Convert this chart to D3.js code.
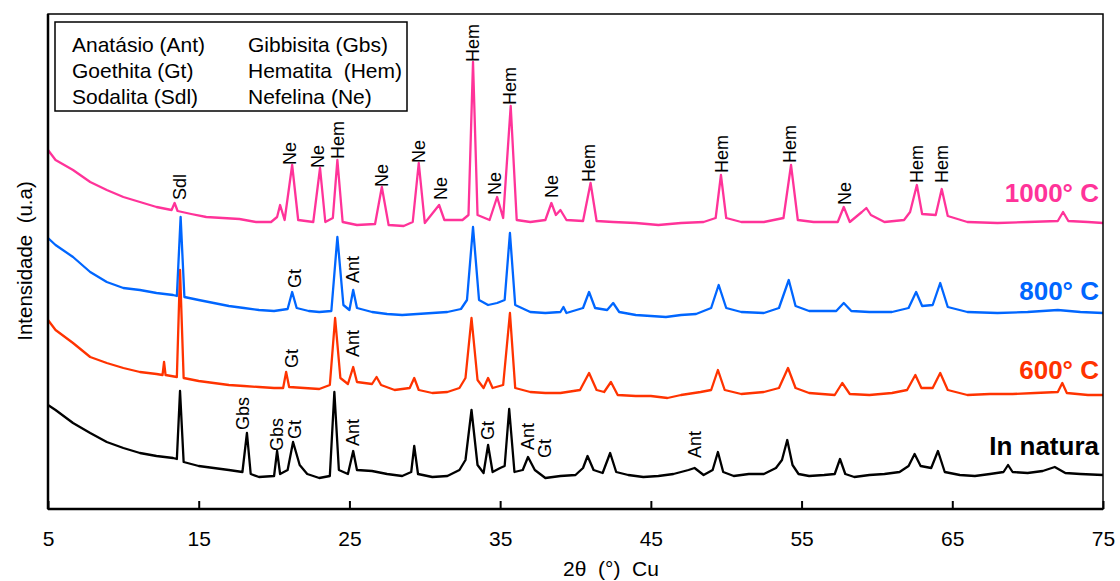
<!DOCTYPE html>
<html>
<head>
<meta charset="utf-8">
<script src="https://cdn.jsdelivr.net/npm/d3@7"></script>
<style>
  html, body { margin: 0; padding: 0; background: #fff; }
  svg { display: block; font-family: Arial, "Liberation Sans", sans-serif; }
</style>
</head>
<body>
<svg id="chart" width="1120" height="581"></svg>
<script>
// ---- Data (2θ in degrees, intensity in arbitrary units, stacked as displayed) ----
const xTicks = [5, 15, 25, 35, 45, 55, 65, 75];

const seriesNames = ["1000° C", "800° C", "600° C", "In natura"];
const seriesColors = ["#FF3399", "#0066FF", "#FF3300", "#000000"];

const natura = [
  [5.0,104],[5.5,99],[6.66,86],[7.8,76],[8.9,67],[10.0,61],[11.1,56],[12.2,53],[13.3,51],[13.55,50],
  [13.76,118],[14.0,47],[15.0,43],[16.0,41],[17.0,39],[17.9,37],[18.2,76],[18.45,35],[19.0,32],[20.0,33],
  [20.2,58],[20.4,35],[20.9,39],[21.26,67],[21.7,44],[22.2,35],[23.0,31],[23.7,33],[24.0,117],[24.3,39],
  [24.9,35],[25.25,58],[25.5,39],[26.5,38],[27.5,35],[28.5,33],[29.1,37],[29.3,63],[29.55,35],[30.5,32],
  [31.5,33],[32.3,39],[32.7,49],[33.1,99],[33.5,44],[33.9,36],[34.2,64],[34.5,37],[35.0,41],[35.3,43],
  [35.6,100],[35.95,37],[36.5,39],[36.85,52],[37.3,39],[38.0,31],[39.0,33],[40.0,34],[40.5,41],[40.8,53],
  [41.2,39],[41.8,36],[42.3,56],[42.7,37],[43.5,34],[44.5,32],[45.5,33],[46.5,35],[47.5,39],[47.9,41],
  [48.5,34],[49.1,39],[49.45,57],[49.8,37],[50.5,33],[51.5,35],[52.5,35],[53.3,41],[53.7,49],[54.05,69],
  [54.4,44],[54.8,35],[55.5,33],[56.5,34],[57.2,35],[57.55,50],[57.9,35],[58.5,32],[59.5,34],[60.5,35],
  [61.5,37],[62.1,43],[62.5,55],[62.9,43],[63.6,41],[64.05,58],[64.5,37],[65.5,34],[66.5,33],[67.5,35],
  [68.4,37],[68.7,44],[69.0,37],[70.0,36],[71.0,38],[71.8,42],[72.5,36],[73.5,35],[75.0,34]
];

const c600 = [
  [5.0,189],[5.5,179],[6.66,166],[7.8,152],[8.9,146],[10.0,141],[11.1,137],[12.2,135],[12.6,134],[12.7,147],
  [12.8,134],[13.55,132],[13.76,239],[14.0,131],[15.0,128],[16.0,126],[17.0,124],[18.0,123],[19.0,122],[20.0,121],
  [20.6,121],[20.8,137],[21.0,122],[22.0,121],[23.0,120],[23.7,124],[24.05,191],[24.4,131],[24.9,125],[25.25,142],
  [25.5,127],[26.5,125],[26.8,132],[27.1,124],[28.0,119],[29.0,121],[29.3,131],[29.6,119],[30.5,116],[31.5,117],
  [32.3,121],[32.7,131],[33.1,191],[33.5,129],[33.9,121],[34.2,131],[34.5,121],[35.2,124],[35.65,196],[36.0,121],
  [37.0,117],[38.0,116],[39.0,116],[40.3,119],[40.9,136],[41.4,119],[41.9,117],[42.35,127],[42.8,114],[44.0,113],
  [45.0,113],[46.1,111],[47.0,114],[48.3,117],[49.0,119],[49.45,139],[49.9,119],[51.0,115],[52.5,117],[53.5,121],
  [54.1,141],[54.6,121],[55.5,116],[57.2,114],[57.7,126],[58.2,115],[59.5,114],[61.0,116],[62.0,119],[62.55,134],
  [62.95,121],[63.7,121],[64.2,136],[64.7,119],[66.0,114],[67.5,115],[69.0,115],[70.5,116],[72.0,117],[72.3,126],
  [72.6,116],[74.0,114],[75.0,114]
];

const c800 = [
  [5.0,271],[5.5,264],[6.66,252],[7.8,237],[8.9,227],[10.0,221],[11.1,219],[12.2,216],[13.3,214],[13.55,213],
  [13.8,292],[14.05,212],[15.0,209],[16.0,206],[17.0,203],[18.0,201],[19.0,199],[20.0,198],[20.9,200],[21.2,217],
  [21.5,201],[22.3,198],[23.0,197],[23.8,198],[24.2,272],[24.6,204],[25.0,199],[25.25,219],[25.5,201],[26.5,197],
  [27.5,195],[28.5,194],[29.5,195],[30.5,196],[31.5,197],[32.4,200],[32.8,209],[33.2,282],[33.6,209],[34.2,204],
  [34.8,206],[35.3,209],[35.65,276],[36.0,204],[37.0,197],[38.0,196],[39.0,197],[39.2,202],[39.4,196],[40.5,201],
  [40.9,217],[41.3,201],[42.1,199],[42.5,206],[42.9,197],[44.0,194],[45.0,193],[46.0,192],[47.0,194],[48.0,195],
  [49.0,201],[49.5,224],[50.0,201],[51.0,197],[52.5,196],[53.5,201],[54.15,229],[54.6,203],[55.5,198],[57.3,198],
  [57.8,206],[58.3,198],[59.5,197],[61.0,197],[62.1,201],[62.6,217],[63.0,203],[63.7,204],[64.2,226],[64.7,202],
  [66.0,197],[68.0,196],[70.0,197],[72.0,199],[73.5,197],[75.0,196]
];

const c1000 = [
  [5.0,359],[5.5,349],[6.66,339],[7.8,327],[8.9,319],[10.0,312],[11.1,307],[12.2,302],[13.2,299],[13.4,306],
  [13.6,298],[14.5,295],[15.5,292],[16.6,291],[17.7,290],[18.8,287],[19.8,287],[20.2,292],[20.4,304],[20.7,289],
  [21.2,344],[21.6,289],[22.6,287],[23.05,341],[23.4,287],[23.9,291],[24.2,349],[24.55,287],[25.5,284],[26.7,285],
  [27.15,322],[27.6,284],[28.6,283],[29.2,287],[29.6,346],[30.0,286],[30.95,304],[31.3,289],[32.5,289],[32.9,294],
  [33.2,447],[33.5,294],[34.3,289],[34.8,312],[35.2,291],[35.7,403],[36.1,289],[37.0,287],[38.0,289],[38.4,306],
  [38.7,294],[39.0,299],[39.4,289],[40.5,288],[41.0,326],[41.4,288],[42.5,287],[44.0,286],[45.5,284],[47.0,286],
  [48.5,287],[49.3,291],[49.65,334],[50.0,291],[51.0,287],[52.5,287],[53.8,291],[54.3,344],[54.75,289],[55.8,287],
  [57.4,287],[57.8,302],[58.2,287],[59.0,297],[59.3,301],[59.6,294],[60.5,287],[61.8,289],[62.2,297],[62.65,324],
  [63.0,295],[63.9,294],[64.3,320],[64.7,293],[66.0,287],[68.0,286],[70.0,287],[72.0,288],[72.35,297],[72.7,288],
  [74.0,287],[75.0,286]
];

const seriesData = [c1000, c800, c600, natura];

// Temperature label baselines (intensity units)
const seriesLabelY = [307, 209, 130, 54];

// Phase annotations: [label, 2θ, intensity at text bottom]
const notes1000 = [
  ["Sdl",13.76,309],["Ne",21.06,344],["Ne",22.92,341],["Hem",24.24,350],["Ne",27.16,322],["Ne",29.62,346],
  ["Ne",31.08,309],["Hem",33.2,447],["Ne",34.66,314],["Hem",35.66,404],["Ne",38.44,311],["Hem",40.9,327],
  ["Hem",49.72,336],["Hem",54.23,346],["Ne",57.88,304],["Hem",62.66,326],["Hem",64.32,326]
];
const notes800 = [["Gt",21.39,221],["Ant",25.24,226]];
const notes600 = [["Gt",21.19,141],["Ant",25.24,152]];
const notesNatura = [
  ["Gbs",17.94,79],["Gbs",20.2,58],["Gt",21.39,70],["Ant",25.24,63],
  ["Gt",34.2,69],["Ant",36.85,59],["Gt",37.98,51],["Ant",47.93,51]
];

const legendItems = [
  ["Anatásio (Ant)", "Gibbisita (Gbs)"],
  ["Goethita (Gt)", "Hematita  (Hem)"],
  ["Sodalita (Sdl)", "Nefelina (Ne)"]
];

// ---- Drawing ----
const svg = d3.select("#chart");
const margin = {left: 48, right: 1103, top: 14, bottom: 509};

const x = d3.scaleLinear().domain([5, 75]).range([margin.left, margin.right]);
const y = d3.scaleLinear().domain([0, 495]).range([margin.bottom, margin.top]);

const line = d3.line().x(d => x(d[0])).y(d => y(d[1])).curve(d3.curveLinear);
const order = [3, 2, 1, 0];
order.forEach(i => {
  svg.append("path")
    .datum(seriesData[i])
    .attr("d", line)
    .attr("fill", "none")
    .attr("stroke", seriesColors[i])
    .attr("stroke-width", 2.3)
    .attr("stroke-linejoin", "round");
});

// Frame
svg.append("rect")
  .attr("x", margin.left).attr("y", margin.top)
  .attr("width", margin.right - margin.left).attr("height", margin.bottom - margin.top)
  .attr("fill", "none").attr("stroke", "#000").attr("stroke-width", 1.5);
svg.append("line")
  .attr("x1", margin.left).attr("x2", margin.left)
  .attr("y1", margin.top).attr("y2", margin.bottom)
  .attr("stroke", "#000").attr("stroke-width", 2.5);
svg.append("line")
  .attr("x1", margin.left).attr("x2", margin.right)
  .attr("y1", margin.bottom).attr("y2", margin.bottom)
  .attr("stroke", "#000").attr("stroke-width", 2.5);

// X axis with inward ticks
const xAxis = d3.axisBottom(x).tickValues(xTicks).tickSizeInner(-8).tickSizeOuter(0).tickPadding(22)
  .tickFormat(d3.format("d"));
const gx = svg.append("g").attr("transform", `translate(0,${margin.bottom})`).call(xAxis);
gx.select(".domain").remove();
gx.selectAll(".tick line").attr("stroke", "#000").attr("stroke-width", 2);
gx.selectAll(".tick text").attr("font-size", 21).attr("fill", "#000")
  .attr("font-family", "Arial, 'Liberation Sans', sans-serif");

// Axis titles
svg.append("text")
  .attr("x", 611).attr("y", 576)
  .attr("text-anchor", "middle").attr("font-size", 21).attr("fill", "#000")
  .style("white-space", "pre")
  .text("2θ  (°)  Cu");
svg.append("text")
  .attr("transform", "translate(32,261) rotate(-90)")
  .attr("text-anchor", "middle").attr("font-size", 20.5).attr("fill", "#000")
  .style("white-space", "pre")
  .text("Intensidade  (u.a)");

// Phase annotations
function drawNotes(notes) {
  notes.forEach(n => {
    svg.append("text")
      .attr("transform", `translate(${x(n[1])},${y(n[2])}) rotate(-90)`)
      .attr("dy", "0.35em")
      .attr("text-anchor", "start")
      .attr("font-size", 18).attr("fill", "#000")
      .text(n[0]);
  });
}
[notes1000, notes800, notes600, notesNatura].forEach(drawNotes);

// Series labels
seriesNames.forEach((name, i) => {
  svg.append("text")
    .attr("x", 1099).attr("y", y(seriesLabelY[i]))
    .attr("text-anchor", "end")
    .attr("font-size", 26).attr("font-weight", "bold")
    .attr("fill", seriesColors[i])
    .text(name);
});

// Legend box
svg.append("rect")
  .attr("x", 55).attr("y", 22).attr("width", 352).attr("height", 89)
  .attr("fill", "#fff").attr("stroke", "#000").attr("stroke-width", 1.5);
const legendRowY = [52, 78, 104];
const legendColX = [72, 248];
legendItems.forEach((row, r) => {
  row.forEach((txt, c) => {
    svg.append("text")
      .attr("x", legendColX[c]).attr("y", legendRowY[r])
      .attr("font-size", 21).attr("fill", "#000")
      .style("white-space", "pre")
      .text(txt);
  });
});
</script>
</body>
</html>
